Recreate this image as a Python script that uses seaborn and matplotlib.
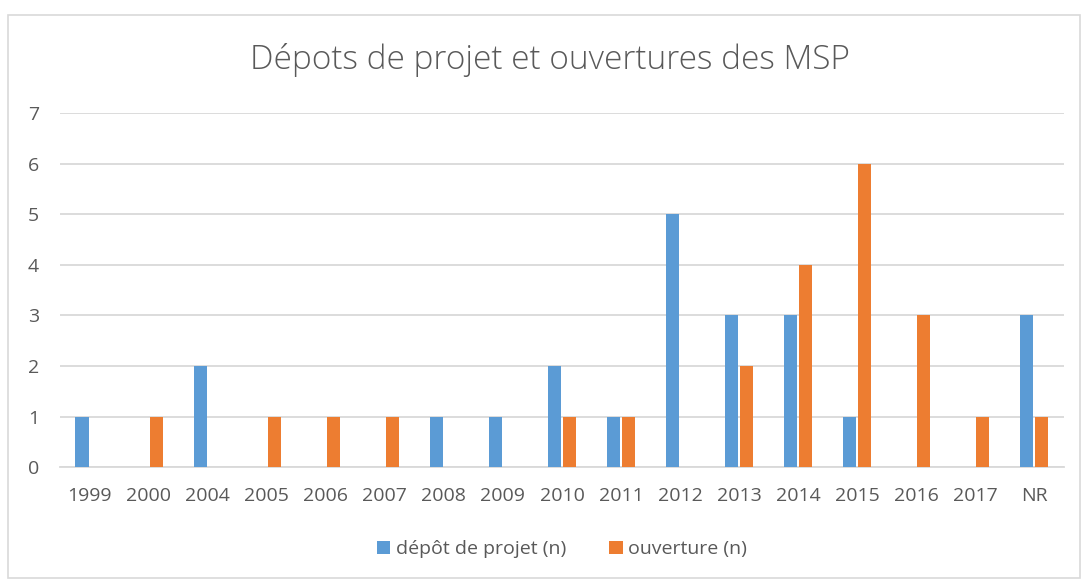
import pandas as pd
import matplotlib.pyplot as plt
import seaborn as sns
from matplotlib.patches import Rectangle

years = ["1999", "2000", "2004", "2005", "2006", "2007", "2008", "2009", "2010",
         "2011", "2012", "2013", "2014", "2015", "2016", "2017", "NR"]
depot = [1, 0, 2, 0, 0, 0, 1, 1, 2, 1, 5, 3, 3, 1, 0, 0, 3]
ouverture = [0, 1, 0, 1, 1, 1, 0, 0, 1, 1, 0, 2, 4, 6, 3, 1, 1]

df = pd.DataFrame({"annee": years, "dépôt de projet (n)": depot, "ouverture (n)": ouverture})
df = df.melt(id_vars="annee", var_name="serie", value_name="n")

sns.set_style("white")
plt.rcParams['font.family'] = ['Open Sans', 'DejaVu Sans']
grey = "#595959"

fig = plt.figure(figsize=(10.83, 5.81), dpi=100)
ax = fig.add_axes([0.0554, 0.196, 0.927, 0.6095])

sns.barplot(data=df, x="annee", y="n", hue="serie", order=years,
            palette=["#5B9BD5", "#ED7D31"], width=0.51, gap=0.13,
            saturation=1, linewidth=0, ax=ax, zorder=3)

ax.set_ylim(0, 7)
ax.set_yticks(range(8))
ax.set_xlim(-0.5, len(years) - 0.5)
ax.set_xlabel("")
ax.set_ylabel("")
ax.grid(axis="y", color="#D9D9D9", linewidth=1.3, zorder=0)
for s in ["top", "right", "left"]:
    ax.spines[s].set_visible(False)
ax.spines["bottom"].set_color("#D9D9D9")
ax.spines["bottom"].set_linewidth(1.3)
ax.tick_params(axis="both", length=0, labelsize=14, colors=grey)
ax.tick_params(axis="x", pad=14)
ax.tick_params(axis="y", pad=15)

ax.legend(loc="center", bbox_to_anchor=(0.5, -0.232), ncol=2, frameon=False,
          fontsize=14, labelcolor=grey, handlelength=0.7, handleheight=0.7,
          handletextpad=0.3, columnspacing=2.2)

fig.text(0.508, 0.897, "Dépots de projet et ouvertures des MSP", ha="center", va="center",
         fontsize=24, color=grey, fontweight="light")

fig.patches.append(Rectangle((0.0075, 0.005), 0.99, 0.97, transform=fig.transFigure,
                             fill=False, edgecolor="#D9D9D9", linewidth=1.2))

plt.savefig("out.png", dpi=100)
